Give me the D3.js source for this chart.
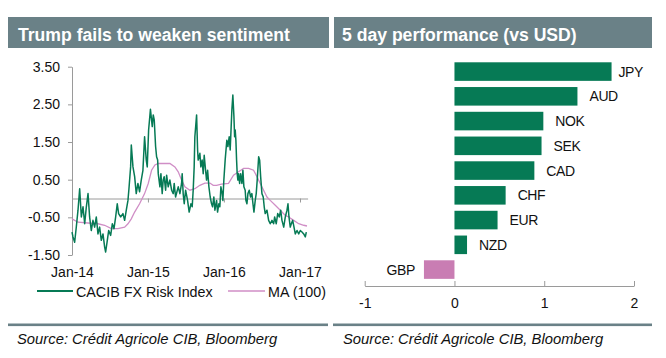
<!DOCTYPE html>
<html><head><meta charset="utf-8">
<script src="https://cdn.jsdelivr.net/npm/d3@7"></script>
<style>
body{margin:0;background:#fff;}
svg{display:block;font-family:"Liberation Sans",Arial,sans-serif;}
</style>
</head><body>
<svg id="c" width="666" height="358"></svg>
<script>
// ---------- DATA ----------
const leftTitle = "Trump fails to weaken sentiment";
const rightTitle = "5 day performance (vs USD)";
const sourceText = "Source: Crédit Agricole CIB, Bloomberg";

// CACIB FX Risk Index (time as decimal year)
const riskYears = [2014.000,2014.013,2014.035,2014.057,2014.079,2014.101,2014.123,2014.145,2014.167,2014.189,
2014.211,2014.232,2014.254,2014.276,2014.298,2014.320,2014.342,2014.364,2014.386,2014.408,
2014.430,2014.443,2014.465,2014.483,2014.509,2014.531,2014.553,2014.575,2014.596,2014.614,
2014.640,2014.671,2014.693,2014.715,2014.737,2014.750,2014.772,2014.781,2014.803,2014.825,
2014.846,2014.868,2014.890,2014.912,2014.934,2014.956,2014.978,2014.991,2015.009,2015.033,
2015.057,2015.070,2015.083,2015.101,2015.114,2015.128,2015.136,2015.158,2015.171,2015.188,
2015.201,2015.214,2015.233,2015.246,2015.267,2015.289,2015.312,2015.333,2015.346,2015.364,
2015.382,2015.399,2015.421,2015.443,2015.451,2015.464,2015.478,2015.496,2015.522,2015.543,
2015.566,2015.583,2015.596,2015.609,2015.618,2015.641,2015.654,2015.662,2015.684,2015.697,
2015.714,2015.728,2015.741,2015.759,2015.772,2015.786,2015.803,2015.820,2015.838,2015.851,
2015.868,2015.882,2015.904,2015.917,2015.934,2015.947,2015.961,2015.978,2015.987,2016.000,
2016.017,2016.039,2016.053,2016.070,2016.083,2016.096,2016.105,2016.118,2016.132,2016.141,
2016.149,2016.158,2016.167,2016.175,2016.184,2016.193,2016.207,2016.220,2016.237,2016.250,
2016.263,2016.280,2016.289,2016.303,2016.316,2016.333,2016.351,2016.368,2016.382,2016.395,
2016.412,2016.425,2016.438,2016.457,2016.470,2016.483,2016.500,2016.517,2016.530,2016.543,
2016.566,2016.588,2016.609,2016.632,2016.654,2016.667,2016.688,2016.707,2016.728,2016.746,
2016.763,2016.786,2016.807,2016.829,2016.842,2016.855,2016.872,2016.886,2016.904,2016.921,
2016.938,2016.961,2016.983,2017.004,2017.026,2017.049,2017.070,2017.083];
const riskValues = [-0.89,-1.02,-1.16,-0.75,-0.31,0.26,-0.49,-0.22,-0.67,-0.22,
0.13,-0.49,-0.85,-0.58,-0.76,-0.49,-0.94,-0.76,-1.11,-0.94,
-1.29,-1.42,-1.11,-0.85,-0.98,-0.67,-0.80,-0.49,-0.14,-0.40,
-0.49,-0.40,-0.58,-0.31,-0.05,0.26,0.84,1.42,0.84,0.58,
0.13,0.40,0.18,0.49,0.75,1.64,1.02,0.84,1.82,2.37,
1.91,2.22,2.09,1.38,1.11,1.02,0.66,0.31,0.66,0.13,
0.49,0.58,0.22,0.62,0.31,0.49,0.22,0.13,0.40,0.04,
0.18,0.31,0.13,0.40,0.66,0.13,-0.14,0.22,-0.05,-0.36,
-0.14,-0.22,0.22,0.84,1.64,2.22,1.29,1.02,1.20,0.84,
1.02,0.66,1.15,0.75,0.49,0.75,0.31,0.04,-0.14,-0.22,
0.04,-0.31,-0.05,-0.36,-0.14,-0.22,0.31,0.13,-0.05,0.50,
1.02,1.55,1.38,1.64,1.29,1.91,2.35,2.75,2.18,1.64,
1.82,1.55,1.02,0.66,0.49,0.66,0.40,0.66,0.40,0.75,
0.31,0.22,-0.05,-0.14,0.13,0.22,0.04,0.13,-0.14,-0.36,
-0.05,0.13,0.49,1.11,1.02,0.58,0.13,0.04,-0.22,-0.40,
-0.31,-0.58,-0.67,-0.58,-0.67,-0.49,-0.67,-0.40,-0.49,-0.31,
-0.58,-0.76,-0.49,-0.31,-0.14,-0.49,-0.76,-0.67,-0.58,-0.76,
-0.94,-0.85,-0.94,-0.85,-0.89,-0.94,-1.02,-0.89];

// MA (100)
const maYears = [2014.000,2014.079,2014.211,2014.342,2014.430,2014.518,2014.605,2014.693,2014.737,2014.781,
2014.825,2014.890,2014.956,2015.004,2015.048,2015.092,2015.136,2015.224,2015.289,2015.355,
2015.399,2015.443,2015.487,2015.553,2015.618,2015.684,2015.750,2015.816,2015.860,2015.904,
2015.969,2016.061,2016.127,2016.193,2016.259,2016.325,2016.390,2016.434,2016.478,2016.522,
2016.566,2016.609,2016.675,2016.741,2016.807,2016.851,2016.917,2016.983,2017.049,2017.092];
const maValues = [-0.54,-0.63,-0.65,-0.67,-0.71,-0.80,-0.80,-0.76,-0.67,-0.54,
-0.36,-0.14,0.13,0.40,0.75,0.89,0.93,0.93,0.93,0.84,
0.71,0.49,0.31,0.22,0.26,0.35,0.41,0.41,0.35,0.35,
0.38,0.40,0.62,0.71,0.80,0.80,0.75,0.58,0.40,0.22,
0.04,-0.05,-0.18,-0.31,-0.45,-0.49,-0.58,-0.67,-0.71,-0.73];

const yTicks = [-1.5,-0.5,0.5,1.5,2.5,3.5];
const xTickYears = [2014,2015,2016,2017];
const legendLabels = ["CACIB FX Risk Index","MA (100)"];

const currencies = ["JPY","AUD","NOK","SEK","CAD","CHF","EUR","NZD","GBP"];
const performance = [1.75,1.37,0.99,0.97,0.89,0.57,0.48,0.14,-0.34];
const perfTicks = [-1,0,1,2];

// ---------- STYLE ----------
const headerColor = "#6a8187";
const green = "#067a55";
const pink = "#c97db3";
const maColor = "#d08ec6";
const axisColor = "#9a9a9a";
const textColor = "#111";
const hyphen = f => v => f(v).replace("\u2212","-");

const svg = d3.select("#c");
const yearToDate = t => {
  const y = Math.floor(t);
  const s = new Date(y,0,1), e = new Date(y+1,0,1);
  return new Date(+s + (t-y)*(e-s));
};

// headers
[[8,321,leftTitle,18],[334,318,rightTitle,342]].forEach(([x,w,t,tx])=>{
  svg.append("rect").attr("x",x).attr("y",17).attr("width",w).attr("height",31).attr("fill",headerColor);
  svg.append("text").attr("x",tx).attr("y",41).attr("fill","#fff")
    .attr("font-size",17.6).attr("font-weight","bold").text(t);
});
// footers
[[8,320,17],[333,319,343]].forEach(([x,w,tx])=>{
  svg.append("rect").attr("x",x).attr("y",323.5).attr("width",w).attr("height",2.6).attr("fill",headerColor);
  svg.append("text").attr("x",tx).attr("y",344).attr("fill",textColor)
    .attr("font-size",14.8).attr("font-style","italic").text(sourceText);
});

// ---------- LEFT CHART ----------
const x = d3.scaleTime().domain([yearToDate(2014), yearToDate(2017.1)]).range([72, 72+3.1*76]);
const y = d3.scaleLinear().domain([-1.5,3.5]).range([255,66.7]);

const yAxis = svg.append("g").attr("transform","translate(72,0)")
  .call(d3.axisLeft(y).tickValues(yTicks).tickFormat(hyphen(d3.format(".2f"))).tickSize(4).tickSizeOuter(0).tickPadding(8));
yAxis.selectAll("path,line").attr("stroke",axisColor);
yAxis.selectAll("text").attr("font-size",14).attr("fill",textColor).attr("font-family","Liberation Sans, Arial, sans-serif");

const zAxis = svg.append("g").attr("transform",`translate(0,${y(0)})`)
  .call(d3.axisBottom(x).tickValues(xTickYears.slice(1).map(yearToDate)).tickFormat("").tickSize(4).tickSizeOuter(0));
zAxis.selectAll("path,line").attr("stroke",axisColor);

const xLab = svg.append("g").attr("transform","translate(0,258)")
  .call(d3.axisBottom(x).tickValues(xTickYears.map(yearToDate)).tickFormat(d3.timeFormat("%b-%y")).tickSize(0).tickPadding(9));
xLab.select(".domain").remove();
xLab.selectAll("text").attr("font-size",14).attr("fill",textColor).attr("font-family","Liberation Sans, Arial, sans-serif");

const riskData = riskYears.map((t,i)=>({d:yearToDate(t),v:riskValues[i]}));
const maData = maYears.map((t,i)=>({d:yearToDate(t),v:maValues[i]}));
const line = d3.line().x(p=>x(p.d)).y(p=>y(p.v));
svg.append("path").datum(maData).attr("d",line).attr("fill","none").attr("stroke",maColor).attr("stroke-width",1.3);
svg.append("path").datum(riskData).attr("d",line).attr("fill","none").attr("stroke",green).attr("stroke-width",1.5).attr("stroke-linejoin","round");

// legend
const leg = [[37,73,76,green,1.8],[228,265,268,maColor,1.5]];
leg.forEach(([x1,x2,tx,c,w],i)=>{
  svg.append("line").attr("x1",x1).attr("x2",x2).attr("y1",291).attr("y2",291).attr("stroke",c).attr("stroke-width",w);
  svg.append("text").attr("x",tx).attr("y",296.5).attr("font-size",14.3).attr("fill",textColor).text(legendLabels[i]);
});

// ---------- RIGHT CHART ----------
const xb = d3.scaleLinear().domain([-1,2]).range([364.7,634]);
const yb = d3.scaleBand().domain(currencies).range([59.2,281.95]).paddingInner(0.25).paddingOuter(0.125);

svg.append("g").selectAll("rect").data(currencies).join("rect")
  .attr("x",(c,i)=>xb(Math.min(0,performance[i])))
  .attr("y",c=>yb(c))
  .attr("width",(c,i)=>Math.abs(xb(performance[i])-xb(0)))
  .attr("height",yb.bandwidth())
  .attr("fill",(c,i)=>performance[i]<0?pink:green);

const lbl = svg.append("g").selectAll("text").data(currencies).join("text")
  .attr("y",c=>yb(c)+yb.bandwidth()/2+5)
  .attr("font-size",14).attr("fill",textColor).attr("letter-spacing",-0.4)
  .attr("text-anchor",(c,i)=>performance[i]<0?"end":"start")
  .text(c=>c);
lbl.each(function(c,i){
  const v = performance[i];
  const w = this.getComputedTextLength();
  const px = v<0 ? xb(v)-9 : Math.min(xb(v)+12, 643-w);
  d3.select(this).attr("x",px);
});

const bAxis = svg.append("g").attr("transform","translate(0,286)")
  .call(d3.axisBottom(xb).tickValues(perfTicks).tickFormat(hyphen(d3.format("d"))).tickSize(-5).tickSizeOuter(0).tickPadding(12));
bAxis.selectAll("path,line").attr("stroke",axisColor);
bAxis.selectAll("text").attr("font-size",14).attr("fill",textColor).attr("font-family","Liberation Sans, Arial, sans-serif");
</script>
</body></html>
